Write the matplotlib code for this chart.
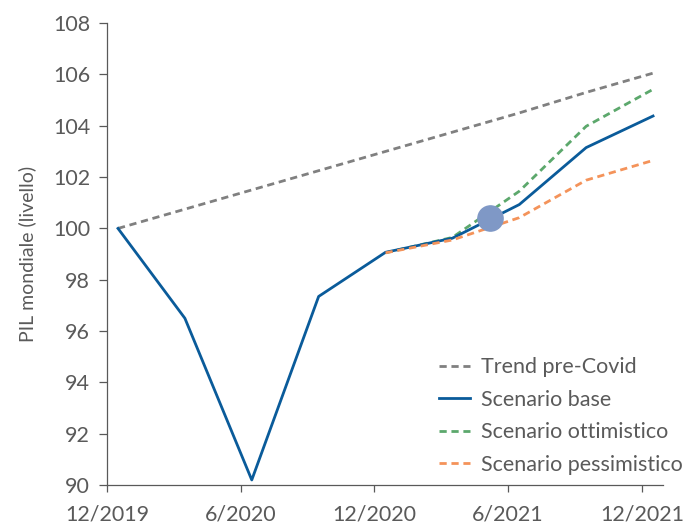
import matplotlib

matplotlib.use("Agg")

import matplotlib.pyplot as plt

# quarterly observations / forecasts
quarters = ["12/2019", "3/2020", "6/2020", "9/2020", "12/2020",
            "3/2021", "6/2021", "9/2021", "12/2021"]
trend = [100.0, 100.75, 101.5, 102.25, 103.0, 103.75, 104.5, 105.3, 106.05]
base = [100.0, 96.5, 90.2, 97.35, 99.07, 99.62, 100.93, 103.15, 104.38]
# scenarios branch off from 12/2020
scen_quarters = quarters[4:]
optimistic = [99.05, 99.65, 101.45, 103.98, 105.42]
pessimistic = [99.05, 99.55, 100.42, 101.88, 102.65]

tick_labels = ["12/2019", "6/2020", "12/2020", "6/2021", "12/2021"]
today_month = 17.2
today_value = 100.42


def month_pos(label: str) -> float:
    m, y = label.split("/")
    return (int(y) - 2019) * 12 + int(m) - 12 + 0.5


def tick_pos(label: str) -> float:
    m, y = label.split("/")
    return (int(y) - 2019) * 12 + int(m) - 12


plt.rcParams["font.family"] = ["Lato", "DejaVu Sans"]
text_color = "#5a5a5a"

fig = plt.figure(figsize=(6.85, 5.25), dpi=100)
ax = fig.add_axes([0.156, 0.076, 0.812, 0.880])

x = [month_pos(q) for q in quarters]
xs = [month_pos(q) for q in scen_quarters]

dash = (0, (2.6, 1.7))
ax.plot(x, trend, color="#808080", lw=2.0, ls=dash, label="Trend pre-Covid", zorder=2)
ax.plot(x, base, color="#0a5b9a", lw=2.0, label="Scenario base", zorder=3)
ax.plot(xs, optimistic, color="#5ca86c", lw=2.0, ls=dash, label="Scenario ottimistico", zorder=2)
ax.plot(xs, pessimistic, color="#f4935a", lw=2.0, ls=dash, label="Scenario pessimistico", zorder=4)
ax.scatter([today_month], [today_value], s=330, color="#7f98c6", zorder=5)

ax.set_xlim(0, 24.95)
ax.set_ylim(90, 108)
ax.set_yticks(range(90, 109, 2))
ax.set_xticks([tick_pos(t) for t in tick_labels])
ax.set_xticklabels(tick_labels)

for side in ("top", "right"):
    ax.spines[side].set_visible(False)
for side in ("left", "bottom"):
    ax.spines[side].set_color("#595959")
    ax.spines[side].set_linewidth(0.9)

ax.tick_params(axis="both", colors="#595959", labelcolor=text_color,
               labelsize=15.5, width=0.9)
ax.tick_params(axis="y", length=6, pad=6)
ax.tick_params(axis="x", length=5, pad=9)
ax.set_ylabel("PIL mondiale (livello)", fontsize=14, color=text_color, labelpad=12)

leg = ax.legend(loc="lower right", bbox_to_anchor=(1.036, 0.022), frameon=False,
                fontsize=15.5, handlelength=1.4, handletextpad=0.55, labelspacing=0.58,
                borderaxespad=0, borderpad=0)
for t in leg.get_texts():
    t.set_color(text_color)

fig.savefig("out.png", dpi=100)
